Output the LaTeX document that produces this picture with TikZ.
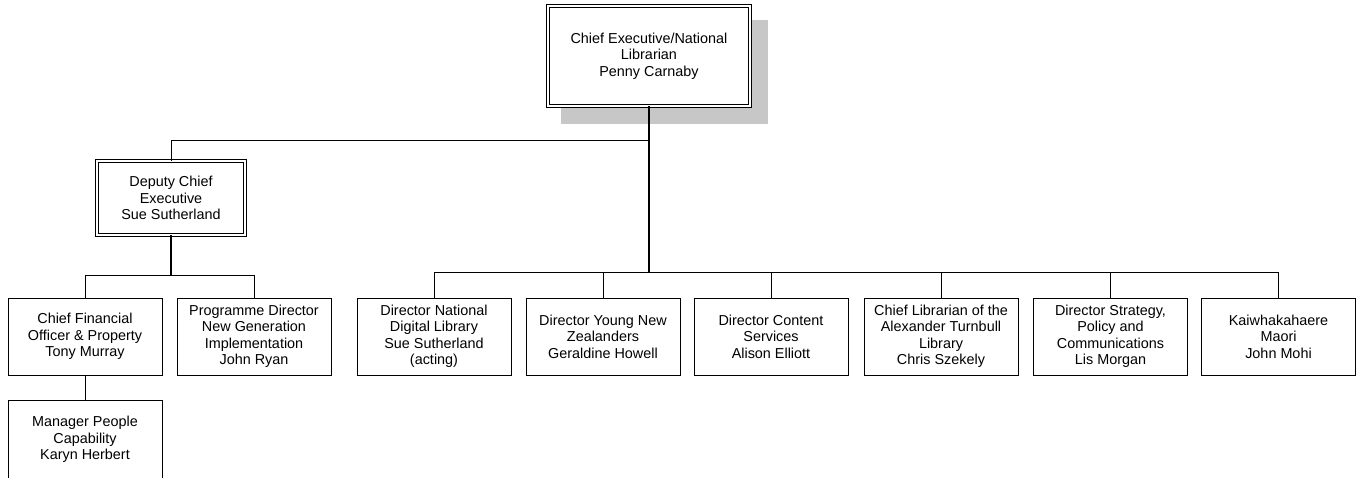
\documentclass[tikz,border=0pt]{standalone}
\usepackage{fontspec}
\setmainfont{Liberation Sans}
\begin{document}
\begin{tikzpicture}[x=1pt,y=-1pt,
  every node/.style={font=\fontsize{14.4}{16.5}\selectfont, align=center, inner sep=0pt},
  box/.style={draw, line width=1pt, fill=white, minimum width=154pt, minimum height=77pt},
  dbox/.style={draw, double, double distance=2.2pt, line width=0.9pt, fill=white},
  thin/.style={line width=1pt},
  trunk/.style={line width=1.8pt}
]
\useasboundingbox (0,0) rectangle (1358,477);
\clip (0,0) rectangle (1358,477);
% shadow
\fill[black!22] (561,20) rectangle (768,124);
% coordinates of buses
\coordinate (busA) at (0,140);
\coordinate (busB) at (0,272);
\coordinate (busC) at (0,275);
% nodes
\node[dbox, minimum width=202pt, minimum height=100pt] (ce) at (649,56) {Chief Executive/National\\Librarian\\Penny Carnaby};
\node[dbox, minimum width=148pt, minimum height=74pt] (dce) at (171,198) {Deputy Chief\\Executive\\Sue Sutherland};
\node[box] (cfo) at (85,336.5) {Chief Financial\\Officer \& Property\\Tony Murray};
\node[box] (pd) at (254,336.5) {Programme Director\\New Generation\\Implementation\\John Ryan};
\node[box, minimum height=79pt] (mpc) at (85,439.5) {Manager People\\Capability\\Karyn Herbert};
\node[box] (d1) at (434,336.5) {Director National\\Digital Library\\Sue Sutherland\\(acting)};
\node[box] (d2) at (603,336.5) {Director Young New\\Zealanders\\Geraldine Howell};
\node[box] (d3) at (771,336.5) {Director Content\\Services\\Alison Elliott};
\node[box] (d4) at (941,336.5) {Chief Librarian of the\\Alexander Turnbull\\Library\\Chris Szekely};
\node[box] (d5) at (1110.5,336.5) {Director Strategy,\\Policy and\\Communications\\Lis Morgan};
\node[box] (d6) at (1278.5,336.5) {Kaiwhakahaere\\Maori\\John Mohi};
% connectors
\draw[trunk] (ce.south) -- (ce.south |- busB);
\draw[thin] (ce.south |- busA) -| (dce.north);
\draw[trunk] (dce.south) -- (dce.south |- busC);
\draw[thin] (cfo.north) -- (cfo.north |- busC) -- (pd.north |- busC) -- (pd.north);
\draw[thin] (cfo.south) -- (mpc.north);
\draw[thin] (d1.north) -- (d1.north |- busB) -- (d6.north |- busB) -- (d6.north);
\foreach \n in {d2,d3,d4,d5} \draw[thin] (\n.north) -- (\n.north |- busB);
\end{tikzpicture}
\end{document}
